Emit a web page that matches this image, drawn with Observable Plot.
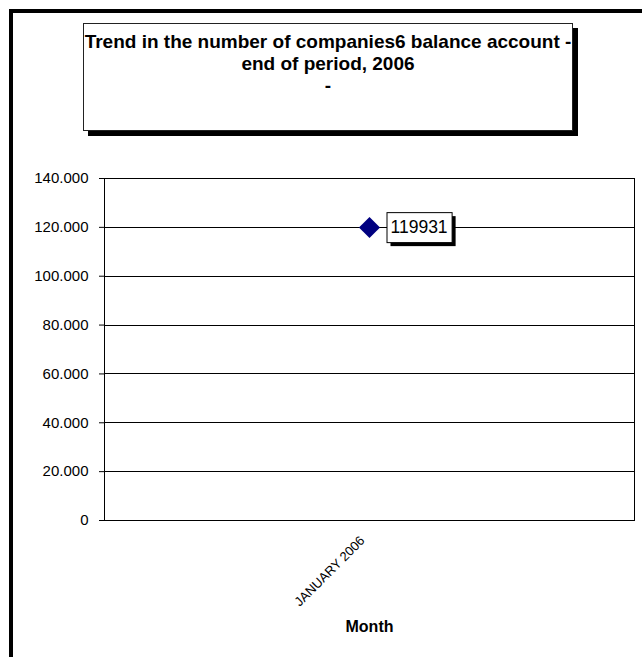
<!DOCTYPE html>
<html><head><meta charset="utf-8">
<script src="https://cdn.jsdelivr.net/npm/d3@7"></script>
<script src="https://cdn.jsdelivr.net/npm/@observablehq/plot@0.6"></script>
<style>
body{margin:0;background:#fff;font-family:"Liberation Sans",Arial,sans-serif;}
#wrap{position:relative;width:642px;height:657px;overflow:hidden;background:#fff;}
#frame{position:absolute;left:9px;top:9px;width:700px;height:700px;border-left:4px solid #000;border-top:4px solid #000;}
#title{position:absolute;left:83px;top:23px;width:490px;height:108px;box-sizing:border-box;border:1px solid #222;background:#fff;box-shadow:5px 5px 0 #000;text-align:center;font-weight:bold;font-size:19px;line-height:22px;padding-top:7px;white-space:nowrap;color:#000;}
#chart{position:absolute;left:0;top:0;}
</style>
</head><body>
<div id="wrap">
  <div id="frame"></div>
  <div id="chart"></div>
  <div id="title">Trend in the number of companies6 balance account -<br>end of period, 2006<br>-</div>
</div>
<script>
const months = ["JANUARY 2006"];
const companies = [119931];
const yTicks = [0, 20000, 40000, 60000, 80000, 100000, 120000, 140000];
const xTitle = "Month";

const data = months.map((m, i) => ({month: m, value: companies[i]}));
const fmt = d => d === 0 ? "0" : d3.format(",")(d).replace(/,/g, ".");

const chart = Plot.plot({
  width: 642, height: 657,
  marginLeft: 104, marginRight: 8, marginTop: 178, marginBottom: 137,
  style: {fontFamily: '"Liberation Sans", Arial, sans-serif', background: "transparent", overflow: "visible", color: "#000"},
  x: {type: "point", domain: months, padding: 0.5},
  y: {domain: [0, 140000]},
  marks: [
    Plot.gridY(yTicks, {stroke: "#000", strokeOpacity: 1}),
    Plot.frame({stroke: "#000"}),
    Plot.axisY(yTicks, {tickFormat: fmt, tickSize: 5, tickPadding: 11, fontSize: 15, label: null}),
    Plot.axisX({tickRotate: -45, tickSize: 0, tickPadding: 18, dx: -7, fontSize: 13, label: null}),
    Plot.text([xTitle], {text: d => d, frameAnchor: "bottom", dy: 100, lineAnchor: "top", fontWeight: "bold", fontSize: 16}),
    Plot.dot(data, {x: "month", y: "value", symbol: "diamond2", r: 9.5, fill: "#000080", stroke: "none"}),
    Plot.text(data, {x: "month", y: "value", text: d => String(d.value), dx: 21, textAnchor: "start", fontSize: 17.5, className: "dlabel"})
  ]
});
document.getElementById("chart").appendChild(chart);
chart.querySelectorAll("line").forEach(l => l.setAttribute("shape-rendering", "crispEdges"));

// draw boxes behind the data labels
const svgBox = chart.getBoundingClientRect();
const lg = chart.querySelector("g.dlabel");
if (lg) {
  const ns = "http://www.w3.org/2000/svg";
  const boxes = document.createElementNS(ns, "g");
  lg.querySelectorAll("text").forEach(t => {
    const b = t.getBoundingClientRect();
    const x = b.left - svgBox.left - 4, y = b.top - svgBox.top - 5;
    const w = b.width + 8, h = b.height + 10;
    const sh = document.createElementNS(ns, "rect");
    sh.setAttribute("x", x + 4); sh.setAttribute("y", y + 4);
    sh.setAttribute("width", w); sh.setAttribute("height", h);
    sh.setAttribute("fill", "#000");
    const r = document.createElementNS(ns, "rect");
    r.setAttribute("x", x + 0.5); r.setAttribute("y", y + 0.5);
    r.setAttribute("width", w); r.setAttribute("height", h);
    r.setAttribute("fill", "#fff"); r.setAttribute("stroke", "#000");
    boxes.appendChild(sh); boxes.appendChild(r);
  });
  lg.parentNode.insertBefore(boxes, lg);
}
</script>
</body></html>
